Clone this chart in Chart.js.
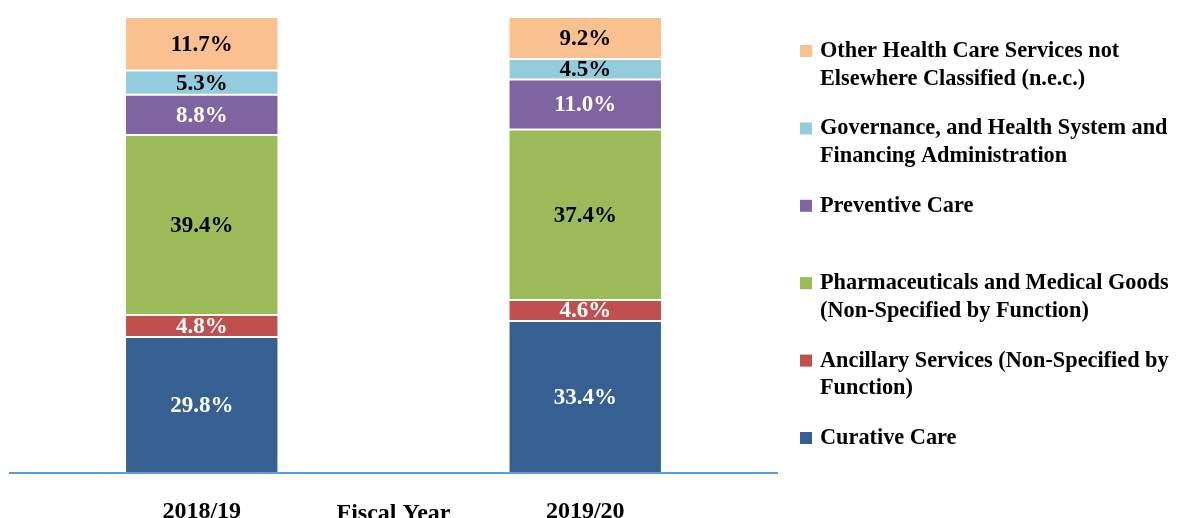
<!DOCTYPE html>
<html>
<head>
<meta charset="utf-8">
<script src="https://cdn.jsdelivr.net/npm/chart.js@4/dist/chart.umd.min.js"></script>
<style>
  html, body { margin: 0; padding: 0; background: #ffffff; overflow: hidden; }
  #wrap { position: relative; width: 1181px; height: 550px; }
</style>
</head>
<body>
<div id="wrap"><canvas id="c"></canvas></div>
<script>
// ---- data ----
const categories = ['2018/19', '2019/20'];
const axisTitle = 'Fiscal Year';

const curativeCare = [29.8, 33.4];
const ancillaryServices = [4.8, 4.6];
const pharmaceuticals = [39.4, 37.4];
const preventiveCare = [8.8, 11.0];
const governance = [5.3, 4.5];
const otherServices = [11.7, 9.2];

const seriesLabels = [
  ['Curative Care'],
  ['Ancillary Services (Non-Specified by', 'Function)'],
  ['Pharmaceuticals and Medical Goods', '(Non-Specified by Function)'],
  ['Preventive Care'],
  ['Governance, and Health System and', 'Financing Administration'],
  ['Other Health Care Services not', 'Elsewhere Classified (n.e.c.)']
];
const seriesValues = [curativeCare, ancillaryServices, pharmaceuticals, preventiveCare, governance, otherServices];

// ---- styles ----
const seriesColors = ['#376092', '#C0504D', '#9BBB59', '#8064A2', '#93CDDD', '#FAC090'];
const labelColors = ['#ffffff', '#ffffff', '#000000', '#ffffff', '#000000', '#000000'];
const FONT = '"Liberation Serif", "Times New Roman", serif';

// 100% stacked: each column is scaled to its own total, labels show the published shares
const stackTotals = categories.map((_, i) => seriesValues.reduce((s, arr) => s + arr[i], 0));

const datasets = seriesValues.map((vals, k) => ({
  label: seriesLabels[k].join(' '),
  data: vals.map((v, i) => v / stackTotals[i] * 100),
  shown: vals,
  backgroundColor: seriesColors[k],
  borderColor: 'rgba(255,255,255,0.3)',
  borderWidth: 1,
  borderSkipped: false,
  labelColor: labelColors[k],
  legendLines: seriesLabels[k],
  barPercentage: 0.4,
  categoryPercentage: 1.0
}));

const segmentLabels = {
  id: 'segmentLabels',
  afterDatasetsDraw(chart) {
    const ctx = chart.ctx;
    ctx.save();
    ctx.font = 'bold 23px ' + FONT;
    ctx.textAlign = 'center';
    ctx.textBaseline = 'middle';
    chart.data.datasets.forEach((ds, di) => {
      const meta = chart.getDatasetMeta(di);
      meta.data.forEach((el, i) => {
        const v = ds.shown[i];
        ctx.fillStyle = ds.labelColor;
        ctx.fillText(v.toFixed(1) + '%', el.x, (el.y + el.base) / 2 + 1);
      });
    });
    ctx.restore();
  }
};

const sideLegend = {
  id: 'sideLegend',
  afterDraw(chart, args, opts) {
    const ctx = chart.ctx;
    ctx.save();
    ctx.font = 'bold ' + opts.fontSize + 'px ' + FONT;
    ctx.textAlign = 'left';
    ctx.textBaseline = 'alphabetic';
    const dsList = chart.data.datasets.slice().reverse();
    dsList.forEach((ds, k) => {
      const base = opts.firstBaseline + k * opts.itemStep;
      ctx.fillStyle = ds.backgroundColor;
      ctx.fillRect(opts.boxX, base - opts.boxSize, opts.boxSize, opts.boxSize);
      ctx.fillStyle = '#000000';
      ds.legendLines.forEach((line, j) => {
        ctx.fillText(line, opts.textX, base + j * opts.lineStep);
      });
    });
    // axis title between category labels
    const area = chart.chartArea;
    ctx.font = 'bold 24px ' + FONT;
    ctx.textAlign = 'center';
    ctx.textBaseline = 'middle';
    ctx.fillText(axisTitle, (area.left + area.right) / 2, opts.axisTitleY);
    ctx.restore();
  }
};

new Chart(document.getElementById('c'), {
  type: 'bar',
  data: { labels: categories, datasets },
  options: {
    responsive: true,
    maintainAspectRatio: false,
    animation: false,
    layout: { padding: { left: 10, right: 404, top: 17, bottom: 0 } },
    plugins: {
      legend: { display: false },
      tooltip: { enabled: false },
      sideLegend: {
        boxX: 800, boxSize: 12, textX: 820,
        firstBaseline: 57, itemStep: 77.4, lineStep: 27.5,
        fontSize: 22.3, axisTitleY: 514
      }
    },
    scales: {
      x: {
        stacked: true,
        grid: { display: false, drawTicks: false },
        border: { display: true, color: '#5B9BD5', width: 2 },
        ticks: { color: '#000000', padding: 24, font: { family: FONT, size: 24, weight: 'bold' } }
      },
      y: {
        stacked: true,
        display: false,
        min: 0,
        max: 100
      }
    }
  },
  plugins: [segmentLabels, sideLegend]
});
</script>
</body>
</html>
